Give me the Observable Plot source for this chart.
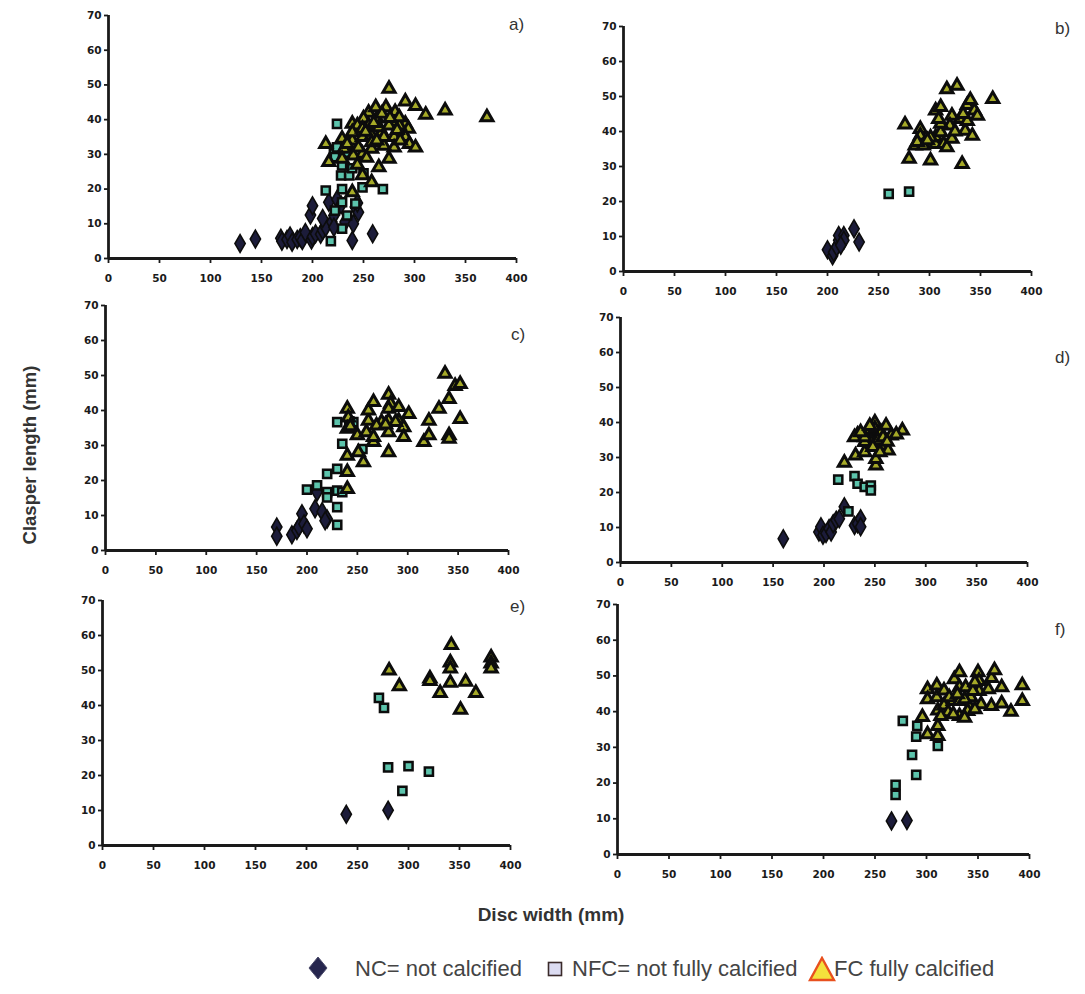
<!DOCTYPE html>
<html>
<head>
<meta charset="utf-8">
<script src="https://cdn.jsdelivr.net/npm/d3@7"></script>
<script src="https://cdn.jsdelivr.net/npm/@observablehq/plot@0.6"></script>
<style>
  html, body { margin: 0; padding: 0; background: #fff; }
  #root { position: relative; width: 1085px; height: 994px; overflow: hidden; background: #fff; font-family: "Liberation Sans", Arial, sans-serif; }
  .panel { position: absolute; }
  .plabel { position: absolute; font-size: 17px; color: #333; line-height: 1; }
  .ytitle { position: absolute; font-weight: bold; font-size: 18.5px; color: #333; white-space: nowrap; transform-origin: center center; }
  .xtitle { position: absolute; font-weight: bold; font-size: 19px; color: #333; white-space: nowrap; }
  .leg { position: absolute; font-size: 22px; color: #444; white-space: nowrap; line-height: 1; }
  .sw { position: absolute; }
</style>
</head>
<body>
<div id="root"></div>
<script>
// ---------- tick labels ----------
const xTicks = [0, 50, 100, 150, 200, 250, 300, 350, 400];
const yTicks = [0, 10, 20, 30, 40, 50, 60, 70];
const panelLabels = ["a)", "b)", "c)", "d)", "e)", "f)"];
const legendLabels = ["NC= not calcified", "NFC= not fully calcified", "FC fully calcified"];

// ---------- data: [disc width (mm), clasper length (mm)] ----------
const aNC = [[129,4.3],[144,5.6],[169,5.8],[170,5],[175,5.5],[178,6.5],[180,4.7],[185,5.5],[188,6],[190,5.2],[193,7.5],[199,5.3],[200,6.3],[203,7.1],[208,7],[210,8.1],[213,9],[198,12.5],[200,15.2],[210,11.5],[219,10.5],[221,12.4],[216,16.2],[224,17],[232,10.5],[239,5.2],[240,10],[242,14.8],[245,13.3],[244,16],[259,7.1],[221,9],[228,15.5]];
const aNFC = [[224,38.8],[221,30.2],[222,29.2],[229,26.8],[228,23.9],[236,23.9],[213,19.6],[229,20],[249,20.5],[269,20],[229,16.2],[242,15.8],[222,13.8],[234,12.4],[229,8.6],[218,5],[236,30.6],[234,30.5],[239,26],[250,24.5],[224,32]];
const aFC = [[275,48.9],[291,45.2],[301,43.9],[311,41.4],[330,42.6],[371,40.7],[272,43.6],[255,42],[239,38.8],[250,40.3],[263,40.3],[281,42.2],[278,39.3],[291,38.8],[294,37.4],[291,35],[295,33],[301,32],[213,33],[216,27.8],[229,34.5],[239,34],[249,35],[258,35.4],[268,36.4],[280,35],[280,32],[270,32.5],[258,31.6],[249,30.2],[240,29.7],[231,31.6],[229,28.7],[275,28.7],[265,26.3],[258,22],[239,19.1],[249,24],[244,38.3],[255,38.3],[265,37.8],[275,38.3],[285,38.3],[258,33.5],[270,35],[262,43.6],[268,41.7],[285,40.7],[239,36.4],[249,37.4],[234,33],[245,32],[252,36.5],[260,39],[276,40.5],[283,37],[263,34],[253,29],[244,27],[286,34]];

const bNC = [[200,6.2],[205,4.5],[206,5.5],[209,7],[211,8.9],[211,10.3],[216,10.3],[216,8.9],[226,12.2],[231,8.4],[213,7.5]];
const bNFC = [[260,22.2],[280,22.8]];
const bFC = [[276,42],[280,32.2],[291,40.7],[291,38.8],[286,36],[294,36],[301,31.7],[306,36.4],[306,38.4],[311,39.8],[306,46],[311,47],[317,52.1],[327,53.1],[332,30.7],[362,49.3],[337,47.6],[344,46],[347,44.5],[330,43.6],[322,44.5],[320,41.7],[311,42.2],[314,36.4],[317,35.5],[322,37.9],[335,40.2],[342,38.8],[301,38.3],[309,43.6],[337,43],[333,45],[340,49],[288,37],[298,37.5],[325,40]];

const cNC = [[170,6.7],[170,4.1],[185,4.5],[190,5.7],[192,6.7],[195,10.5],[197,7.6],[200,6.2],[208,11.9],[215,11.1],[220,9],[210,16.7],[218,8.5]];
const cNFC = [[200,17.4],[210,18.6],[220,16.7],[220,15.2],[220,21.9],[230,23.3],[230,17.1],[230,12.4],[230,7.3],[235,16.7],[235,30.5],[230,36.7],[246,36.7],[255,29],[242,36.9]];
const cFC = [[240,40.5],[241,38],[240,34.8],[240,27.1],[240,22.4],[240,17.6],[250,32.9],[251,28.1],[256,25.2],[259,33.8],[261,37.1],[261,40],[266,42.4],[266,31],[266,32.4],[274,36.7],[281,44.5],[283,41.9],[281,40.5],[281,37.1],[281,33.8],[281,28.1],[291,41],[291,37.1],[296,35.2],[296,32.4],[301,39],[288,36.7],[269,35.7],[316,31],[321,37.1],[321,32.9],[331,40.5],[337,50.5],[341,43.3],[341,32.9],[341,31.9],[347,47],[352,47.6],[352,37.6],[243,35.5],[278,36]];

const dNC = [[160,6.8],[195,8.7],[197,10.2],[199,7.8],[202,8.3],[205,9.7],[207,8.7],[209,11.1],[212,12.1],[215,12.5],[220,15.9],[230,10.6],[233,11.1],[236,12.5],[236,10.2]];
const dNFC = [[214,23.7],[230,24.7],[233,22.5],[240,21.6],[246,22],[246,20.6],[224,14.6]];
const dFC = [[220,28.5],[231,30.6],[240,31.5],[251,27.7],[251,29.6],[233,36.5],[230,35.8],[243,37.7],[250,40],[250,38.2],[251,35.8],[256,37.2],[261,39.1],[266,36.3],[277,37.7],[246,34.4],[256,33.4],[263,32],[240,34.4],[253,34.9],[258,35.8],[240,35.8],[248,33],[236,37.2],[271,36.6],[245,39],[255,31.5],[262,34.5]];

const eNC = [[239,8.9],[280,10.1]];
const eNFC = [[271,42.2],[276,39.3],[280,22.3],[300,22.7],[294,15.6],[320,21.1]];
const eFC = [[281,50],[291,45.5],[321,47.7],[321,47],[331,43.6],[342,57.3],[341,52.3],[341,50.6],[341,46.5],[351,38.8],[356,46.8],[366,43.6],[381,53.7],[381,52],[381,50.6]];

const fNC = [[266,9.4],[281,9.5]];
const fNFC = [[270,19.5],[270,16.7],[277,37.4],[286,27.9],[290,22.3],[290,33],[291,36],[311,30.4]];
const fFC = [[296,38.5],[301,33.7],[311,33.2],[311,36],[301,46.3],[301,43.5],[310,47.3],[310,44],[311,40.3],[317,41.7],[321,39.8],[326,43],[327,49.1],[332,51],[332,46.8],[332,43],[332,38.8],[338,46.8],[342,41.2],[343,44],[350,51],[351,48.6],[351,45.8],[353,42.1],[363,41.6],[363,49.4],[366,51.6],[373,46.8],[373,42.3],[382,40],[393,47.4],[393,43],[317,45.9],[322,44],[337,43.5],[340,40.2],[347,40.7],[326,39.3],[314,38.8],[337,38.3],[330,44.9],[345,45.8],[347,48.2],[360,46.3]];

// ---------- layout (positions only) ----------
const layout = [
  {nc: aNC, nfc: aNFC, fc: aFC, left: 78,  top: 10,  width: 443, height: 273, lx: 509, ly: 16},
  {nc: bNC, nfc: bNFC, fc: bFC, left: 593, top: 21,  width: 443, height: 275, lx: 1055, ly: 20},
  {nc: cNC, nfc: cNFC, fc: cFC, left: 75,  top: 300, width: 438, height: 275, lx: 511, ly: 326},
  {nc: dNC, nfc: dNFC, fc: dFC, left: 590, top: 312, width: 442, height: 275, lx: 1055, ly: 349},
  {nc: eNC, nfc: eNFC, fc: eFC, left: 72,  top: 595, width: 443, height: 275, lx: 510, ly: 598},
  {nc: fNC, nfc: fNFC, fc: fFC, left: 587, top: 599, width: 447, height: 280, lx: 1055, ly: 621}
];

const COL = { nc: "#1c1c3a", nfc: "#5cc4ac", fc: "#a6aa28", edge: "#0c0c0c" };

const root = document.getElementById("root");

layout.forEach((p, i) => {
  const chart = Plot.plot({
    width: p.width,
    height: p.height,
    marginLeft: 30, marginRight: 5, marginTop: 5, marginBottom: 25,
    x: { domain: [0, 400] },
    y: { domain: [0, 70] },
    style: { fontFamily: "'DejaVu Sans', sans-serif", fontSize: "10.5px", fontWeight: "bold", color: "#1a1a1a", background: "transparent", overflow: "visible" },
    marks: [
      Plot.axisX({ ticks: xTicks, tickSize: 5, tickPadding: 11, strokeWidth: 1.8, label: null }),
      Plot.axisY({ ticks: yTicks, tickSize: 4, tickPadding: 3, strokeWidth: 1.8, label: null }),
      Plot.ruleY([0], { stroke: "#1a1a1a", strokeWidth: 2.8 }),
      Plot.ruleX([0], { stroke: "#1a1a1a", strokeWidth: 2.8 }),
      Plot.dot(p.nc, { x: d => d[0], y: d => d[1], symbol: "diamond", r: 5.4, fill: COL.nc, stroke: COL.edge, strokeWidth: 1.6 }),
      Plot.dot(p.nfc, { x: d => d[0], y: d => d[1], symbol: "square", r: 4.6, fill: COL.nfc, stroke: COL.edge, strokeWidth: 2.5 }),
      Plot.dot(p.fc, { x: d => d[0], y: d => d[1], symbol: "triangle", r: 4.5, fill: COL.fc, stroke: COL.edge, strokeWidth: 3 })
    ]
  });
  const wrap = document.createElement("div");
  wrap.className = "panel";
  wrap.style.left = p.left + "px";
  wrap.style.top = p.top + "px";
  wrap.appendChild(chart);
  root.appendChild(wrap);

  const lab = document.createElement("div");
  lab.className = "plabel";
  lab.style.left = p.lx + "px";
  lab.style.top = p.ly + "px";
  lab.textContent = panelLabels[i];
  root.appendChild(lab);
});

// axis titles
const yt = document.createElement("div");
yt.className = "ytitle";
yt.textContent = "Clasper length (mm)";
root.appendChild(yt);
const ytw = yt.getBoundingClientRect().width;
yt.style.left = (30 - ytw / 2) + "px";
yt.style.top = (455 - 11) + "px";
yt.style.transform = "rotate(-90deg)";

const xt = document.createElement("div");
xt.className = "xtitle";
xt.textContent = "Disc width (mm)";
root.appendChild(xt);
const xtw = xt.getBoundingClientRect().width;
xt.style.left = (551 - xtw / 2) + "px";
xt.style.top = "904px";

// legend
const ns = "http://www.w3.org/2000/svg";
function swatch(left, top, w, h, inner) {
  const s = document.createElementNS(ns, "svg");
  s.setAttribute("width", w); s.setAttribute("height", h);
  s.setAttribute("class", "sw");
  s.style.left = left + "px"; s.style.top = top + "px";
  s.innerHTML = inner;
  root.appendChild(s);
}
swatch(306, 955, 24, 26, '<path d="M12,2 L21,13 L12,24 L3,13 Z" fill="#26264e" stroke="#4a4a6a" stroke-width="1"/>');
swatch(547, 961, 17, 17, '<rect x="1.5" y="1.5" width="13" height="13" fill="#dcdcf2" stroke="#3a2a2a" stroke-width="1.6"/>');
swatch(808, 956, 28, 26, '<path d="M14,2 L26,24 L2,24 Z" fill="#f4e23c" stroke="#e8501e" stroke-width="2.4" stroke-linejoin="miter"/>');

const legX = [355, 572, 834];
legendLabels.forEach((t, i) => {
  const el = document.createElement("div");
  el.className = "leg";
  el.style.left = legX[i] + "px";
  el.style.top = "958px";
  el.textContent = t;
  root.appendChild(el);
});
</script>
</body>
</html>
